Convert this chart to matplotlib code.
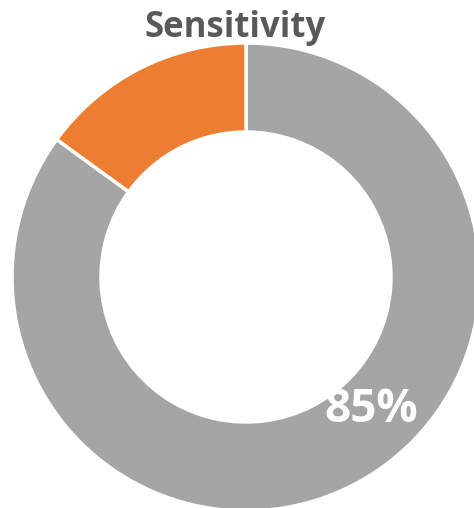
import matplotlib
matplotlib.use("Agg")
import matplotlib.pyplot as plt

# donut data
labels = ["Sensitive", "Missed"]
values = [85, 15]
colors = ["#a5a5a5", "#ed7d31"]

fig = plt.figure(figsize=(4.74, 5.08), dpi=100)
ax = fig.add_axes([0, 0, 1, 1])

# pixel-like coordinates, y going up
cx, cy = 246, 231
r_out, r_in = 234, 145

ax.pie(values, colors=colors, radius=r_out, center=(cx, cy),
       startangle=90, counterclock=False,
       wedgeprops=dict(width=r_out - r_in, edgecolor="white", linewidth=2.5))

ax.set_xlim(0, 474)
ax.set_ylim(0, 508)
ax.set_aspect("equal")
ax.axis("off")

ax.text(235, 508 - 28, "Sensitivity", ha="center", va="center",
        fontsize=25, fontweight="bold", color="#595959", family="Open Sans")
ax.text(371, 508 - 410, f"{values[0]}%", ha="center", va="center",
        fontsize=33, fontweight="bold", color="white", family="Open Sans")

fig.savefig("out.png", dpi=100)
